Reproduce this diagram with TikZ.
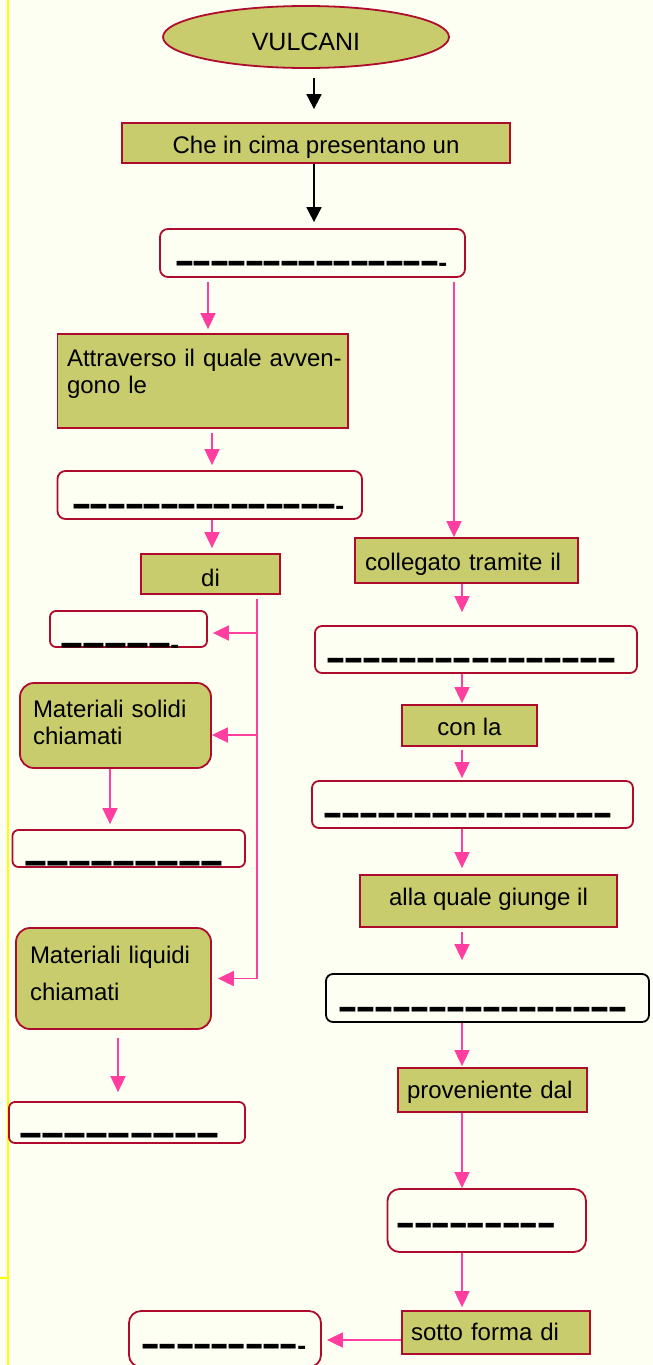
\documentclass[tikz,border=0pt]{standalone}
\usepackage{fontspec}
\setmainfont{Liberation Sans}
\usepackage{graphicx}
\usetikzlibrary{shapes.geometric,arrows.meta,calc}
\definecolor{bg}{RGB}{252,255,242}
\definecolor{olive}{RGB}{200,204,108}
\definecolor{bred}{RGB}{175,12,45}
\definecolor{hpink}{RGB}{255,62,160}
\definecolor{yline}{RGB}{255,255,0}
\newcommand\tb[2]{\rule[-#2pt]{0pt}{\dimexpr#1pt+#2pt\relax}}
\newcommand\dashes[3]{{\fontsize{27}{27}\selectfont\foreach\k in {1,...,#1}{\ifnum\k>1\kern#3pt\fi\scalebox{#2}[2.7]{\_}}}}
\newcommand\shortd{\smash{\fontsize{40}{40}\selectfont\kern1pt\raisebox{-24pt}{\scalebox{0.7}[1]{-}}}}
\tikzset{
  base/.style={draw=bred, line width=1.8pt, inner sep=0pt, font=\fontsize{24}{27}\selectfont},
  obox/.style={base, fill=olive, rectangle},
  wbox/.style={base, fill=bg, rounded corners=7pt},
  rbox/.style={base, fill=olive, rounded corners=14pt},
  parr/.style={hpink, line width=1.8pt, -{Triangle[length=16pt,width=15pt]}},
  barr/.style={black, line width=1.8pt, -{Triangle[length=15pt,width=15pt]}},
}
\begin{document}
\begin{tikzpicture}[x=1pt,y=-1pt]
\useasboundingbox (0,0) rectangle (653,1365);
\clip (0,0) rectangle (653,1365);
\fill[bg] (0,0) rectangle (653,1365);
\draw[yline, line width=2pt] (8,0) -- (8,1365);
\draw[yline, line width=2pt] (0,1278) -- (8,1278);

% left / top column
\node[base, ellipse, fill=olive, minimum width=286pt, minimum height=62pt, font=\fontsize{25}{25}\selectfont] (vul) at (306,37) {\tb{27.9}{0}VULCANI};
\node[obox, minimum width=388pt, minimum height=40pt] (che) at (316,143) {\tb{26}{5}Che in cima presentano un};
\node[wbox, rounded corners=8pt, minimum width=305pt, minimum height=48pt] (bA) at (312.5,253) {\tb{11.6}{12}\dashes{15}{1}{2.5}\shortd};
\node[obox, minimum width=290.5pt, minimum height=94pt, text width=271.5pt, inner xsep=9.5pt, align=left] (att) at (202.75,381) {\tb{17.5}{0}\mbox{Attraverso il quale avven-}\\gono le\tb{0}{20.5}};
\node[wbox, rounded corners=8pt, minimum width=304.5pt, minimum height=48pt] (bB) at (209.75,495) {\tb{12.6}{12}\dashes{15}{1}{2.5}\shortd};
\node[obox, minimum width=139pt, minimum height=40pt] (di) at (210.5,574) {\tb{29}{5}di};
\node[wbox, rounded corners=6pt, minimum width=157pt, minimum height=36pt] (bH) at (128.5,629) {\tb{15.6}{6}\smash{\dashes{5}{1.267}{3}}\shortd\kern14pt};
\node[rbox, minimum width=191pt, minimum height=85pt, text width=165pt, inner xsep=13pt, align=left] (mats) at (115.5,725.5) {\tb{17.5}{0}Materiali solidi\\chiamati\tb{0}{7.5}};
\node[wbox, rounded corners=6pt, minimum width=232.5pt, minimum height=37pt] (bI) at (128.75,848.5) {\tb{20.6}{12}\dashes{9}{1.267}{3}\kern10pt};
\node[rbox, minimum width=195pt, minimum height=101pt, text width=167pt, inner xsep=14pt, align=left, font=\fontsize{24}{37}\selectfont] (matl) at (113.5,978.5) {\tb{17.5}{0}Materiali liquidi\\chiamati\tb{0}{11.5}};
\node[wbox, rounded corners=6pt, minimum width=236pt, minimum height=41pt] (bJ) at (127,1122.5) {\tb{16}{12}\dashes{9}{1.267}{3}\kern15pt};

% right column
\node[obox, minimum width=223pt, minimum height=45pt, text width=203pt, inner xsep=10pt, align=left] (coll) at (466.5,560.5) {\tb{24}{5}collegato tramite il};
\node[wbox, minimum width=322pt, minimum height=47pt] (bC) at (476,649.5) {\tb{12.6}{12}\dashes{16}{1}{3}\kern9pt};
\node[obox, minimum width=135pt, minimum height=41pt] (conla) at (469.5,725.5) {\tb{24}{5}con la};
\node[wbox, minimum width=321pt, minimum height=47pt] (bD) at (472.5,804.5) {\tb{12.6}{12}\dashes{16}{1}{3}\kern9pt};
\node[obox, minimum width=257pt, minimum height=52pt] (alla) at (488.5,901) {\tb{17.5}{8.1}alla quale giunge il};
\node[wbox, draw=black, minimum width=323pt, minimum height=48pt] (bE) at (487.5,998) {\tb{13.6}{12}\dashes{16}{1}{3}\kern9pt};
\node[obox, minimum width=189pt, minimum height=44pt, text width=171pt, inner xsep=9pt, align=left] (prov) at (492.5,1090) {\tb{22}{5.4}proveniente dal};
\node[wbox, rounded corners=12pt, minimum width=198.5pt, minimum height=63pt] (bF) at (486.75,1220.5) {\tb{0}{14.4}\dashes{9}{0.967}{3}\kern21pt};
\node[obox, minimum width=188pt, minimum height=43pt, text width=170pt, inner xsep=9pt, align=left] (sotto) at (496,1332.5) {\tb{22}{5.6}sotto forma di};
\node[wbox, rounded corners=12pt, minimum width=192pt, minimum height=56pt] (bG) at (225,1339) {\tb{6}{14.4}\smash{\dashes{9}{0.953}{3}}\shortd};

% helper x positions
\coordinate (xa) at (314,0);
\coordinate (xb) at (208,0);
\coordinate (xc) at (454,0);
\coordinate (xd) at (212,0);
\coordinate (xr) at (462,0);
\coordinate (trunk) at (257,0);
\coordinate (xe) at (110,0);
\coordinate (xf) at (118,0);
\coordinate (bHa) at ($(bH.east)+(0,4)$);
\coordinate (mtsa) at ($(mats.east)+(0,9.5)$);
\coordinate (sta) at ($(sotto.west)+(0,7.5)$);

% connectors
\draw[barr, shorten <=9pt, shorten >=13pt] (vul.south -| xa) -- (che.north -| xa);
\draw[barr, shorten >=6pt] (che.south -| xa) -- (bA.north -| xa);
\draw[parr, shorten <=4pt, shorten >=4pt] (bA.south -| xb) -- (att.north -| xb);
\draw[parr, shorten <=4pt] (bA.south -| xc) -- (coll.north -| xc);
\draw[parr, shorten <=4pt, shorten >=5pt] (att.south -| xd) -- (bB.north -| xd);
\draw[parr, shorten >=5pt] (bB.south -| xd) -- (di.north -| xd);
\draw[parr, shorten <=4pt, shorten >=6pt] (di.south -| trunk) -- (trunk |- matl.east) -- (matl.east);
\draw[parr, shorten >=5pt] (trunk |- bHa) -- (bHa);
\draw[parr] (trunk |- mtsa) -- (mtsa);
\draw[parr, shorten >=5pt] (mats.south -| xe) -- (bI.north -| xe);
\draw[parr, shorten <=8pt, shorten >=9pt] (matl.south -| xf) -- (bJ.north -| xf);
\draw[parr, shorten >=13pt] (coll.south -| xr) -- (bC.north -| xr);
\draw[parr, shorten >=1pt] (bC.south -| xr) -- (conla.north -| xr);
\draw[parr, shorten <=3pt, shorten >=2pt] (conla.south -| xr) -- (bD.north -| xr);
\draw[parr, shorten >=6pt] (bD.south -| xr) -- (alla.north -| xr);
\draw[parr, shorten <=4pt, shorten >=13pt] (alla.south -| xr) -- (bE.north -| xr);
\draw[parr, shorten >=1pt] (bE.south -| xr) -- (prov.north -| xr);
\draw[parr] (prov.south -| xr) -- (bF.north -| xr);
\draw[parr, shorten >=3pt] (bF.south -| xr) -- (sotto.north -| xr);
\draw[parr, shorten >=5pt] (sta) -- (bG.east |- sta);
\end{tikzpicture}
\end{document}
